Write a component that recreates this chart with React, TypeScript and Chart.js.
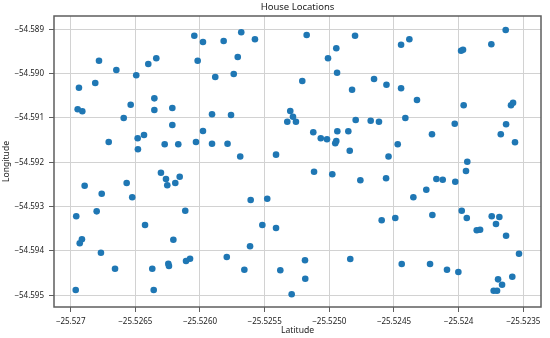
import React, { useEffect, useRef } from "react";
import { Chart, registerables } from "chart.js";

Chart.register(...registerables);

const chartTitle = "House Locations";
const xAxisTitle = "Latitude";
const yAxisTitle = "Longitude";

const latitudes = [
  -25.526044, -25.525977, -25.525817, -25.526781, -25.526647, -25.5264, -25.526338, -25.526018, -25.526493, -25.525882,
  -25.526936, -25.52681, -25.526353, -25.526536, -25.526946, -25.52691, -25.526353, -25.526214, -25.52659, -25.525907,
  -25.52576, -25.526214, -25.525977, -25.526706, -25.526482, -25.526433, -25.52648, -25.526273, -25.526168, -25.526031,
  -25.525907, -25.525787, -25.525681, -25.525575, -25.525708, -25.525739, -25.525175, -25.524801, -25.524946, -25.52501,
  -25.52494, -25.525209, -25.524654, -25.524558, -25.524824, -25.525302, -25.525281, -25.525325, -25.525258, -25.524796,
  -25.52468, -25.524616, -25.525124, -25.525066, -25.525018, -25.524946, -25.524954, -25.524938, -25.524853, -25.524842,
  -25.525689, -25.525412, -25.524542, -25.523636, -25.524381, -25.524445, -25.523981, -25.523966, -25.523747, -25.524445,
  -25.524322, -25.523961, -25.523595, -25.523579, -25.524412, -25.52403, -25.523633, -25.524206, -25.523674, -25.523564,
  -25.524471, -25.523933, -25.526302, -25.526263, -25.526157, -25.526253, -25.526191, -25.526892, -25.526567, -25.52676,
  -25.526524, -25.526957, -25.526799, -25.526114, -25.526425, -25.526913, -25.52693, -25.526206, -25.526766, -25.526245,
  -25.52624, -25.526108, -25.526077, -25.525793, -25.526657, -25.526369, -25.526961, -25.526358, -25.525118, -25.524977,
  -25.52476, -25.524561, -25.525608, -25.52548, -25.525518, -25.525412, -25.524595, -25.525613, -25.525657, -25.525379,
  -25.525188, -25.524838, -25.525186, -25.525291, -25.523943, -25.524172, -25.524123, -25.524026, -25.52425, -25.52435,
  -25.52449, -25.524203, -25.523976, -25.523937, -25.523744, -25.523685, -25.523711, -25.52386, -25.523834, -25.523633,
  -25.523533, -25.52444, -25.524221, -25.52409, -25.524002, -25.523695, -25.523664, -25.523585, -25.523729, -25.523703,
];

const longitudes = [
  -54.589144, -54.589286, -54.589264, -54.589708, -54.589918, -54.589783, -54.589654, -54.589708, -54.590038, -54.590076,
  -54.590317, -54.590211, -54.590557, -54.590701, -54.590805, -54.59085, -54.59082, -54.590775, -54.591001, -54.590917,
  -54.590933, -54.591159, -54.591294, -54.591542, -54.591459, -54.591384, -54.591707, -54.591594, -54.591594, -54.591542,
  -54.591581, -54.591581, -54.589068, -54.589226, -54.589625, -54.590008, -54.589129, -54.589144, -54.589429, -54.589654,
  -54.589979, -54.590166, -54.590121, -54.59025, -54.590362, -54.590843, -54.590972, -54.591084, -54.591084, -54.591046,
  -54.591062, -54.591087, -54.591323, -54.591459, -54.591481, -54.59152, -54.591572, -54.591301, -54.591301, -54.591739,
  -54.591869, -54.591827, -54.591869, -54.589016, -54.589226, -54.589347, -54.589483, -54.58946, -54.589338, -54.590331,
  -54.590595, -54.590714, -54.590714, -54.590656, -54.591001, -54.591129, -54.591143, -54.591369, -54.591369, -54.591549,
  -54.591594, -54.591989, -54.592235, -54.592377, -54.592325, -54.592519, -54.592467, -54.592528, -54.592467, -54.592709,
  -54.59279, -54.593218, -54.593106, -54.593092, -54.593415, -54.593737, -54.593827, -54.593746, -54.594039, -54.594288,
  -54.59434, -54.594227, -54.594175, -54.594136, -54.5944, -54.5944, -54.594881, -54.594881, -54.592212, -54.592271,
  -54.592406, -54.592361, -54.592851, -54.592821, -54.593415, -54.593482, -54.593306, -54.593895, -54.594423, -54.594436,
  -54.594211, -54.594182, -54.594626, -54.594978, -54.592196, -54.592377, -54.592393, -54.592438, -54.592618, -54.59279,
  -54.593257, -54.593189, -54.593092, -54.593257, -54.593218, -54.593234, -54.593392, -54.593534, -54.593521, -54.593656,
  -54.594062, -54.594294, -54.594294, -54.594423, -54.594475, -54.59464, -54.594761, -54.594581, -54.594897, -54.594897,
];

const xTickValues = [-25.527, -25.5265, -25.526, -25.5255, -25.525, -25.5245, -25.524, -25.5235];
const xTickLabels = ["−25.527", "−25.5265", "−25.5260", "−25.5255", "−25.5250", "−25.5245", "−25.524", "−25.5235"];
const yTickValues = [-54.589, -54.59, -54.591, -54.592, -54.593, -54.594, -54.595];
const yTickLabels = ["−54.589", "−54.590", "−54.591", "−54.592", "−54.593", "−54.594", "−54.595"];

const xMin = -25.527129;
const xMax = -25.523363;
const yMin = -54.595264;
const yMax = -54.5887;

const FONT = "'Noto Sans', 'DejaVu Sans', sans-serif";
const TEXT = "#222222";
const GRID = "#d2d2d2";
const FRAME = "#5e5e5e";

const framePlugin = {
  id: "frame",
  afterDatasetsDraw(chart: any) {
    const { ctx, chartArea } = chart;
    ctx.save();
    ctx.strokeStyle = FRAME;
    ctx.lineWidth = 1.5;
    ctx.strokeRect(chartArea.left, chartArea.top, chartArea.right - chartArea.left, chartArea.bottom - chartArea.top);
    ctx.restore();
  },
};

export default function App() {
  const ref = useRef<HTMLCanvasElement | null>(null);

  useEffect(() => {
    document.body.style.margin = "0";
    const canvas = ref.current;
    if (!canvas) return;
    const points = latitudes.map((lat, i) => ({ x: lat, y: longitudes[i] }));
    const chart = new Chart(canvas, {
      type: "scatter",
      data: {
        datasets: [
          {
            label: "Houses",
            data: points,
            backgroundColor: "#1f77b4",
            borderWidth: 0,
            pointRadius: 3.3,
            pointHoverRadius: 3.3,
          },
        ],
      },
      options: {
        animation: false,
        responsive: false,
        devicePixelRatio: 1,
        layout: { padding: { left: 0, right: 9, top: 0, bottom: 0 } },
        plugins: {
          legend: { display: false },
          tooltip: { enabled: false },
          title: {
            display: true,
            text: chartTitle,
            fullSize: false,
            color: TEXT,
            font: { family: FONT, size: 9.5, weight: "normal" },
            padding: { top: 2, bottom: 2.6 },
          },
        },
        scales: {
          x: {
            type: "linear",
            min: xMin,
            max: xMax,
            afterBuildTicks: (scale: any) => {
              scale.ticks = xTickValues.map((v) => ({ value: v }));
            },
            afterFit: (scale: any) => {
              scale.height = 31;
            },
            border: { display: false },
            grid: { color: GRID, lineWidth: 1, drawTicks: true, tickLength: 5, tickColor: FRAME },
            ticks: {
              autoSkip: false,
              maxRotation: 0,
              includeBounds: false,
              padding: 5,
              color: TEXT,
              font: { family: FONT, size: 8 },
              callback: (_v: any, i: number) => xTickLabels[i],
            },
            title: {
              display: true,
              text: xAxisTitle,
              color: TEXT,
              font: { family: FONT, size: 8.6 },
              padding: { top: 0, bottom: 2 },
            },
          },
          y: {
            type: "linear",
            min: yMin,
            max: yMax,
            afterBuildTicks: (scale: any) => {
              scale.ticks = yTickValues.map((v) => ({ value: v }));
            },
            afterFit: (scale: any) => {
              scale.width = 54;
            },
            border: { display: false },
            grid: { color: GRID, lineWidth: 1, drawTicks: true, tickLength: 5, tickColor: FRAME },
            ticks: {
              autoSkip: false,
              includeBounds: false,
              padding: 5,
              color: TEXT,
              font: { family: FONT, size: 8 },
              callback: (_v: any, i: number) => yTickLabels[i],
            },
            title: {
              display: true,
              text: yAxisTitle,
              color: TEXT,
              font: { family: FONT, size: 8.6 },
              padding: { top: 1, bottom: 0 },
            },
          },
        },
      },
      plugins: [framePlugin],
    } as any);
    return () => chart.destroy();
  }, []);

  return (
    <div style={{ width: 550, height: 338 }}>
      <canvas ref={ref} width={550} height={338} style={{ display: "block" }} />
    </div>
  );
}
